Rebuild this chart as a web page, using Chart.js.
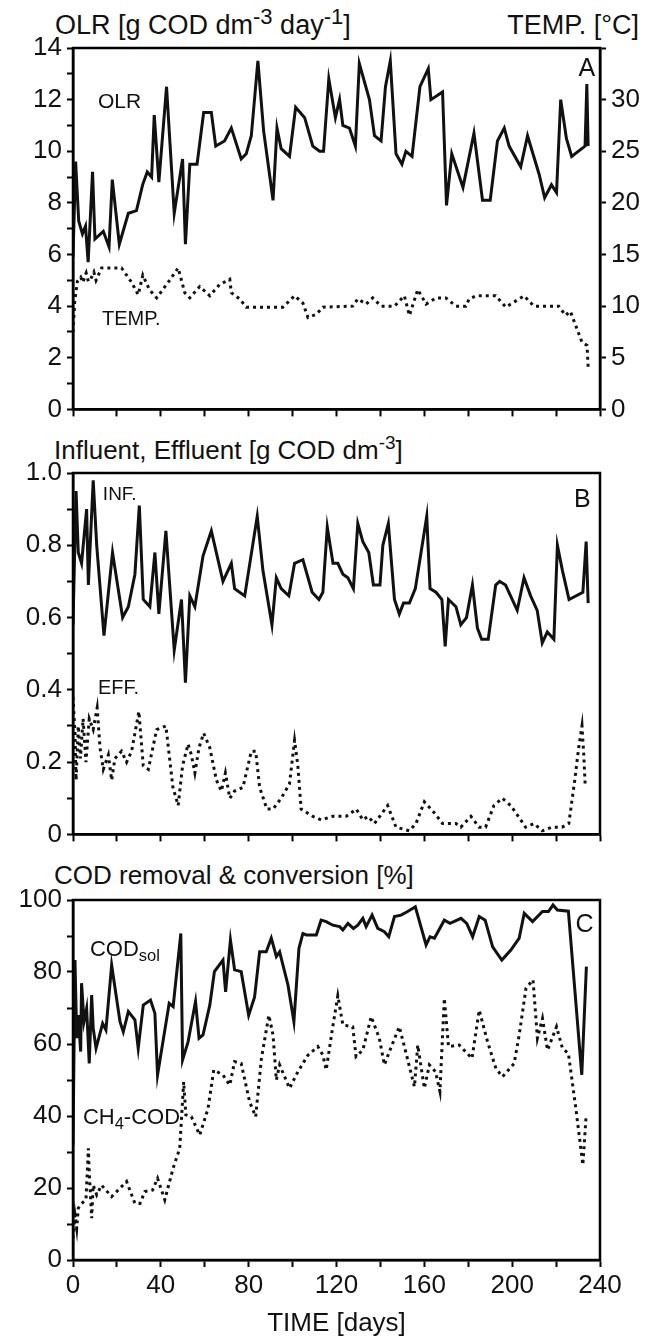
<!DOCTYPE html>
<html>
<head>
<meta charset="utf-8">
<script src="https://cdn.jsdelivr.net/npm/chart.js@4.4.1/dist/chart.umd.min.js"></script>
<style>
  body { margin: 0; background: #fff; }
  #page { position: relative; width: 653px; height: 1339px; background: #fff; overflow: hidden; }
  #page canvas { position: absolute; left: 0; }
  .title {
    position: absolute;
    font-family: "Liberation Sans", Arial, sans-serif;
    font-size: 26px;
    color: #111;
    white-space: nowrap;
    line-height: 30px;
  }
  .title sup { font-size: 19px; vertical-align: 10px; line-height: 0; }
  .title.big { font-size: 27px; }
  .title.big sup { font-size: 22px; }
</style>
</head>
<body>
<div id="page">
  <div class="title big" style="left:55px; top:10px;">OLR [g COD dm<sup>-3</sup> day<sup>-1</sup>]</div>
  <div class="title big" style="right:14px; top:10px;">TEMP. [°C]</div>
  <div class="title" style="left:54px; top:435px;">Influent, Effluent [g COD dm<sup>-3</sup>]</div>
  <div class="title" style="left:54px; top:860px;">COD removal &amp; conversion [%]</div>
  <canvas id="chartA" width="653" height="430" style="top:0px"></canvas>
  <canvas id="chartB" width="653" height="425" style="top:430px"></canvas>
  <canvas id="chartC" width="653" height="484" style="top:855px"></canvas>
</div>
<script>
"use strict";

// Panel A: organic loading rate and reactor temperature
const olrDays = [0, 1.2, 2.6, 4.3, 5.7, 6.9, 8.9, 10, 13.8, 16.4, 17.9, 21.1, 25.2, 28.9, 31.7, 33.8, 35.8, 37, 39.1, 42.6, 46.1, 49.9, 51.2, 53.2, 56.5, 59.5, 63, 65, 69, 72.1, 76.6, 78.9, 81.2, 84.2, 86.8, 91.1, 92.9, 94.8, 98.6, 101.4, 105.5, 109.2, 112.3, 114.1, 116.5, 119.5, 121.4, 122.9, 125.9, 128.6, 130.4, 135, 137.3, 140.3, 142.3, 144.5, 147.1, 149.8, 151.6, 154.4, 158, 161.8, 163, 168.3, 170.1, 172.5, 177.6, 182.6, 186.5, 190, 193.3, 196.4, 198.6, 203.9, 207, 212.3, 214.8, 217.9, 220.2, 222.1, 224.7, 227.1, 233.2, 234, 234.6];
const olrValues = [5.9, 9.6, 7.3, 6.8, 7.1, 5.7, 9.2, 6.6, 6.9, 6.3, 8.9, 6.4, 7.6, 7.7, 8.7, 9.2, 9.0, 11.4, 8.8, 12.5, 7.6, 9.7, 6.4, 9.5, 9.5, 11.5, 11.5, 10.2, 10.4, 10.9, 9.7, 9.9, 10.6, 13.5, 10.8, 8.1, 10.9, 10.1, 9.8, 11.7, 11.3, 10.2, 10.0, 10.0, 12.8, 11.3, 12.0, 11.0, 10.9, 10.2, 13.4, 12.0, 10.6, 10.4, 12.5, 13.5, 9.9, 9.5, 10.0, 9.8, 12.5, 13.2, 12.0, 12.3, 7.9, 9.9, 8.6, 10.7, 8.1, 8.1, 10.4, 10.9, 10.2, 9.4, 10.6, 9.1, 8.2, 8.7, 8.4, 12.0, 10.5, 9.8, 10.2, 12.6, 10.2];

const tempDays = [0, 0.8, 2, 3.5, 4.5, 6, 7, 8, 9.5, 10.5, 13, 17.6, 22.1, 24.4, 26.7, 29.7, 31.8, 34.8, 38.1, 43.3, 47.9, 50.9, 53.2, 57.7, 62.3, 66.8, 71.4, 72.1, 75.9, 78.9, 95.6, 100.9, 104.7, 107, 110.8, 113.8, 127.4, 129.7, 133.5, 136.5, 140.3, 146.4, 150.9, 153.2, 157, 160.8, 165.3, 169.8, 174.4, 178.9, 180.4, 183.5, 192.5, 197.1, 205.4, 209.9, 221.2, 224.3, 226.5, 229.5, 231.8, 234.1, 234.6];
const tempValues = [7.5, 10.5, 12.4, 12.8, 12.3, 13.2, 12.4, 12.6, 13.3, 12.5, 13.7, 13.7, 13.7, 13.0, 12.3, 11.1, 13.0, 11.6, 10.8, 12.3, 13.7, 11.3, 10.8, 11.9, 11.0, 12.1, 12.6, 11.3, 10.7, 9.9, 9.9, 11.0, 10.3, 8.9, 9.2, 9.9, 10.0, 10.7, 10.2, 10.8, 10.0, 10.0, 11.0, 9.1, 11.6, 10.2, 10.8, 10.8, 10.0, 10.0, 10.7, 11.0, 11.0, 9.9, 11.0, 10.0, 10.0, 9.1, 9.5, 7.8, 6.5, 6.2, 4.1];

// Panel B: influent and effluent COD
const infDays = [0, 1.4, 2.4, 3.9, 6.2, 7, 9.2, 10.8, 14.1, 18, 22.6, 25.2, 28.2, 30.2, 32, 35, 37.3, 39.1, 42.3, 46.1, 49.4, 51.2, 53.2, 55.5, 59.2, 63, 68.3, 72.1, 73.6, 78.2, 83.9, 86.5, 90.6, 92.6, 94.8, 98.3, 100.9, 104.7, 108.9, 112, 113.8, 115.8, 118.4, 120.6, 122.9, 125.2, 127.7, 129.7, 132, 134.7, 136.8, 139.8, 141.1, 143.6, 146.4, 148.6, 150.5, 153.2, 155.9, 158.5, 161.1, 162.6, 165.3, 168, 169.5, 171, 174.4, 176.6, 179.2, 181.9, 184.2, 186.1, 189.1, 192.5, 194.3, 197, 202.3, 205.4, 208.4, 211.4, 213.7, 216, 219, 220.6, 222.9, 225.9, 232.2, 233.7, 234.6];
const infValues = [0.58, 0.95, 0.78, 0.75, 0.90, 0.69, 0.98, 0.80, 0.55, 0.78, 0.60, 0.63, 0.72, 0.91, 0.65, 0.63, 0.78, 0.61, 0.84, 0.51, 0.65, 0.42, 0.66, 0.63, 0.77, 0.84, 0.70, 0.75, 0.68, 0.66, 0.88, 0.73, 0.58, 0.71, 0.68, 0.66, 0.75, 0.76, 0.67, 0.65, 0.67, 0.85, 0.75, 0.75, 0.72, 0.71, 0.68, 0.86, 0.81, 0.78, 0.69, 0.69, 0.80, 0.86, 0.65, 0.61, 0.64, 0.64, 0.68, 0.78, 0.88, 0.68, 0.67, 0.65, 0.52, 0.65, 0.63, 0.58, 0.60, 0.69, 0.57, 0.54, 0.54, 0.69, 0.70, 0.69, 0.62, 0.71, 0.66, 0.62, 0.53, 0.56, 0.54, 0.80, 0.73, 0.65, 0.67, 0.81, 0.64];

const effDays = [0, 0.9, 1.4, 2.4, 3.4, 4.6, 5.9, 7.4, 9.2, 11, 12.3, 13.8, 16.1, 17.6, 19.1, 22.1, 24.4, 26.7, 30, 32, 34.3, 38.1, 42.3, 45.5, 47.9, 49.9, 52.4, 53.9, 55.5, 57.4, 59.5, 62.3, 65.3, 67.6, 69.4, 71.4, 73.6, 77.4, 81.2, 83.2, 85, 88.3, 91.1, 94.8, 98.6, 100.9, 102.4, 103.9, 109.2, 113, 118.3, 124.4, 129, 132, 134.3, 137.3, 143.3, 147.1, 153.2, 156.2, 160, 164.5, 168.3, 174.4, 176.6, 181.2, 184.9, 187.9, 191.7, 195.5, 199.3, 203.9, 206.1, 209.9, 213.7, 218.2, 222.7, 225.8, 228.5, 230.3, 231.8, 232.6, 233.3];
const effValues = [0.38, 0.28, 0.15, 0.30, 0.21, 0.32, 0.20, 0.32, 0.29, 0.35, 0.24, 0.18, 0.22, 0.15, 0.21, 0.23, 0.20, 0.23, 0.34, 0.19, 0.18, 0.29, 0.30, 0.13, 0.08, 0.19, 0.25, 0.22, 0.17, 0.24, 0.28, 0.24, 0.15, 0.12, 0.17, 0.10, 0.12, 0.13, 0.23, 0.23, 0.13, 0.07, 0.07, 0.10, 0.14, 0.26, 0.19, 0.07, 0.05, 0.04, 0.05, 0.05, 0.07, 0.04, 0.05, 0.03, 0.08, 0.02, 0.01, 0.03, 0.09, 0.06, 0.03, 0.03, 0.02, 0.05, 0.02, 0.02, 0.08, 0.10, 0.08, 0.04, 0.02, 0.03, 0.01, 0.02, 0.02, 0.03, 0.15, 0.24, 0.30, 0.22, 0.13];

// Panel C: soluble COD removal and methane conversion
const codDays = [0, 0.9, 1.7, 2.4, 3.5, 3.9, 5, 6.2, 7.4, 8.5, 9.2, 10.5, 13.5, 15, 17.6, 21.4, 22.9, 25.2, 28.2, 29.7, 32, 35.3, 37.3, 38.5, 43.8, 45.6, 49.1, 49.9, 52.4, 55.8, 57.4, 59.2, 62.3, 64.4, 68.3, 69.5, 71.7, 73.6, 76.6, 80, 82.7, 85, 88, 90.3, 92.6, 94.1, 97.9, 100.6, 102.9, 104.7, 106.2, 110.8, 113, 115.3, 118.3, 121.4, 122.9, 125.2, 127.7, 129.7, 132, 133.5, 136.2, 138.8, 141.8, 143.8, 146.4, 149.4, 152.4, 155.9, 160.8, 162.6, 164.6, 169.1, 171.7, 176.7, 179.3, 182, 185, 187.7, 191.1, 195.3, 199.4, 203.2, 205.5, 209.3, 213.8, 216.5, 218.6, 220.6, 225.6, 231.7, 233.8];
const codValues = [31.9, 83.3, 61.6, 68.0, 57.9, 76.9, 66.2, 69.9, 54.6, 73.6, 64.4, 58.8, 65.7, 63.9, 81.9, 66.2, 63.4, 69.0, 66.7, 58.8, 70.8, 72.2, 68.5, 51.4, 71.3, 70.4, 90.7, 55.6, 60.6, 71.8, 61.6, 62.5, 70.8, 80.1, 83.3, 74.5, 88.9, 80.6, 80.1, 68.0, 73.1, 85.6, 85.6, 89.4, 84.3, 85.6, 76.4, 66.2, 86.6, 90.7, 90.3, 90.3, 94.4, 94.0, 93.0, 92.6, 91.7, 93.5, 92.1, 93.0, 94.9, 92.6, 95.8, 92.1, 91.2, 89.8, 95.4, 95.8, 96.8, 98.1, 87.5, 89.8, 89.4, 94.4, 93.5, 94.9, 93.5, 89.8, 95.4, 94.4, 87.0, 83.3, 86.1, 89.4, 96.3, 94.0, 96.8, 96.8, 98.6, 97.2, 96.9, 51.4, 81.5];

const ch4Days = [0, 0.9, 1.7, 2.4, 3.9, 5.9, 7, 7.4, 8.5, 9.2, 10.8, 13, 17.6, 24.4, 26.7, 28.2, 30.5, 32.7, 36.2, 38.5, 41.8, 45.6, 48.6, 50.4, 51.4, 53.9, 57.7, 61.5, 64.1, 68.3, 71.4, 73.6, 76.6, 80.4, 83.2, 85.8, 89.2, 91.1, 92.6, 94.1, 98.6, 102.4, 107, 111.5, 113.8, 115.3, 118.3, 120.6, 122.9, 127.4, 128.9, 132, 135.8, 139.5, 141.8, 144.1, 148.6, 151.7, 155.5, 157, 160, 162.3, 165.1, 167.1, 169.1, 171, 175.9, 181.7, 185, 188.8, 192.6, 195.6, 200.9, 203.2, 206.3, 209.5, 211.5, 213.8, 216.1, 220.2, 222.9, 225.6, 229, 232.2, 233.7];
const ch4Values = [6.0, 12.5, 8.8, 14.4, 15.7, 16.7, 31.0, 24.5, 11.6, 20.8, 18.1, 20.8, 17.6, 21.8, 18.1, 15.7, 15.7, 19.0, 19.4, 22.7, 16.7, 25.5, 31.0, 49.5, 40.3, 39.8, 34.7, 42.1, 52.8, 51.4, 48.6, 55.1, 54.6, 44.0, 39.8, 56.0, 68.0, 62.5, 50.0, 54.2, 47.7, 52.3, 56.9, 59.3, 56.9, 52.8, 64.8, 73.4, 65.3, 64.8, 56.5, 58.3, 67.6, 61.6, 54.2, 57.9, 64.8, 57.4, 48.1, 59.7, 47.7, 54.2, 52.3, 46.8, 72.7, 59.3, 59.7, 56.0, 69.4, 60.6, 53.2, 50.9, 54.6, 62.5, 75.5, 77.8, 61.6, 67.1, 58.3, 64.8, 58.8, 57.4, 42.1, 26.4, 40.3];

const FONT = "'Liberation Sans', Arial, sans-serif";
const INK = "#111";

/**
 * Pairs a day array with a value array into {x, y} points.
 */
function toPoints(days, values) {
  return days.map((d, i) => ({ x: d, y: values[i] }));
}

function solidSeries(points, axis) {
  return {
    data: points,
    yAxisID: axis || "y",
    borderColor: INK,
    borderWidth: 3,
    pointRadius: 0,
    tension: 0,
    fill: false,
  };
}

function dottedSeries(points, axis) {
  return {
    data: points,
    yAxisID: axis || "y",
    borderColor: INK,
    borderWidth: 3,
    borderDash: [3, 4],
    borderCapStyle: "butt",
    pointRadius: 0,
    tension: 0,
    fill: false,
  };
}

// Box round the plot area and the small in-plot captions
const panelDecor = {
  id: "panelDecor",
  afterDatasetsDraw(chart, args, opts) {
    const ctx = chart.ctx;
    const area = chart.chartArea;
    ctx.save();
    ctx.strokeStyle = "#000";
    ctx.lineWidth = 2.5;
    ctx.strokeRect(area.left, area.top, area.right - area.left, area.bottom - area.top);

    const xs = chart.scales.x;
    const ys = chart.scales.y;
    ctx.fillStyle = INK;
    ctx.textBaseline = "middle";
    (opts.labels || []).forEach((lab) => {
      let px = xs.getPixelForValue(lab.x);
      const py = ys.getPixelForValue(lab.y);
      const size = lab.size || 20;
      if (lab.align === "center") {
        let w = 0;
        lab.parts.forEach((p) => {
          ctx.font = (p.sub ? size * 0.75 : size) + "px " + FONT;
          w += ctx.measureText(p.text).width;
        });
        px -= w / 2;
      }
      ctx.textAlign = "left";
      lab.parts.forEach((p) => {
        const s = p.sub ? size * 0.75 : size;
        ctx.font = s + "px " + FONT;
        ctx.fillText(p.text, px, p.sub ? py + size * 0.3 : py);
        px += ctx.measureText(p.text).width;
      });
    });
    ctx.restore();
  },
};

/**
 * Common x axis in days; tick labels only on the bottom panel.
 */
function dayAxis(height, showLabels) {
  return {
    type: "linear",
    min: 0,
    max: 240,
    afterFit: (scale) => {
      scale.height = height;
    },
    border: { display: true, color: "#000", width: 2.5 },
    grid: {
      drawOnChartArea: false,
      drawTicks: true,
      tickLength: 7,
      tickWidth: 2,
      tickColor: "#000",
    },
    ticks: {
      stepSize: 20,
      maxRotation: 0,
      autoSkip: false,
      padding: 3,
      color: INK,
      font: { family: FONT, size: 26 },
      callback: (v) => (showLabels && v % 40 === 0 ? String(v) : ""),
    },
    title: showLabels
      ? {
          display: true,
          text: "TIME [days]",
          color: INK,
          font: { family: FONT, size: 26 },
          padding: { top: 0, bottom: 0 },
        }
      : { display: false },
  };
}

function valueAxis(position, width, min, max, step, labelFn) {
  return {
    type: "linear",
    position: position,
    min: min,
    max: max,
    afterFit: (scale) => {
      scale.width = width;
    },
    border: { display: true, color: "#000", width: 2.5 },
    grid: {
      drawOnChartArea: false,
      drawTicks: true,
      tickLength: 6,
      tickWidth: 2,
      tickColor: "#000",
    },
    ticks: {
      stepSize: step,
      autoSkip: false,
      padding: 5,
      color: INK,
      font: { family: FONT, size: 26 },
      callback: labelFn,
    },
  };
}

function baseOptions(padding, scales, labels) {
  return {
    responsive: false,
    animation: false,
    devicePixelRatio: 1,
    layout: { padding: padding, autoPadding: false },
    plugins: {
      legend: { display: false },
      tooltip: { enabled: false },
      panelDecor: { labels: labels },
    },
    scales: scales,
  };
}

// Panel A
new Chart(document.getElementById("chartA"), {
  type: "line",
  data: {
    datasets: [
      solidSeries(toPoints(olrDays, olrValues), "y"),
      dottedSeries(toPoints(tempDays, tempValues), "y2"),
    ],
  },
  options: baseOptions(
    { top: 48, left: 0, right: 0, bottom: 0 },
    {
      x: dayAxis(16, false),
      y: valueAxis("left", 73, 0, 14, 1, (v) => (v % 2 === 0 ? String(v) : "")),
      y2: valueAxis("right", 53, 0, 35, 5, (v) => (v < 35 ? String(v) : "")),
    },
    [
      { parts: [{ text: "OLR" }], x: 11.4, y: 11.9, size: 21 },
      { parts: [{ text: "TEMP." }], x: 13.2, y: 3.5, size: 20 },
      { parts: [{ text: "A" }], x: 234, y: 13.2, size: 25, align: "center" },
    ]
  ),
  plugins: [panelDecor],
});

// Panel B
new Chart(document.getElementById("chartB"), {
  type: "line",
  data: {
    datasets: [
      solidSeries(toPoints(infDays, infValues)),
      dottedSeries(toPoints(effDays, effValues)),
    ],
  },
  options: baseOptions(
    { top: 43, left: 0, right: 53, bottom: 0 },
    {
      x: dayAxis(17, false),
      y: valueAxis("left", 73, 0, 1, 0.1, (v) => {
        const tenth = Math.round(v * 10);
        if (tenth % 2 !== 0) return "";
        return tenth === 0 ? "0" : (tenth / 10).toFixed(1);
      }),
    },
    [
      { parts: [{ text: "INF." }], x: 13.6, y: 0.94, size: 19 },
      { parts: [{ text: "EFF." }], x: 11.4, y: 0.405, size: 20 },
      { parts: [{ text: "B" }], x: 232, y: 0.926, size: 25, align: "center" },
    ]
  ),
  plugins: [panelDecor],
});

// Panel C
new Chart(document.getElementById("chartC"), {
  type: "line",
  data: {
    datasets: [
      solidSeries(toPoints(codDays, codValues)),
      dottedSeries(toPoints(ch4Days, ch4Values)),
    ],
  },
  options: baseOptions(
    { top: 45, left: 0, right: 53, bottom: 0 },
    {
      x: dayAxis(79, true),
      y: valueAxis("left", 73, 0, 100, 10, (v) => (v % 20 === 0 ? String(v) : "")),
    },
    [
      { parts: [{ text: "COD" }, { text: "sol", sub: true }], x: 7.7, y: 86.1, size: 22 },
      { parts: [{ text: "CH" }, { text: "4", sub: true }, { text: "-COD" }], x: 4.5, y: 39.4, size: 22 },
      { parts: [{ text: "C" }], x: 233, y: 93, size: 25, align: "center" },
    ]
  ),
  plugins: [panelDecor],
});
</script>
</body>
</html>
